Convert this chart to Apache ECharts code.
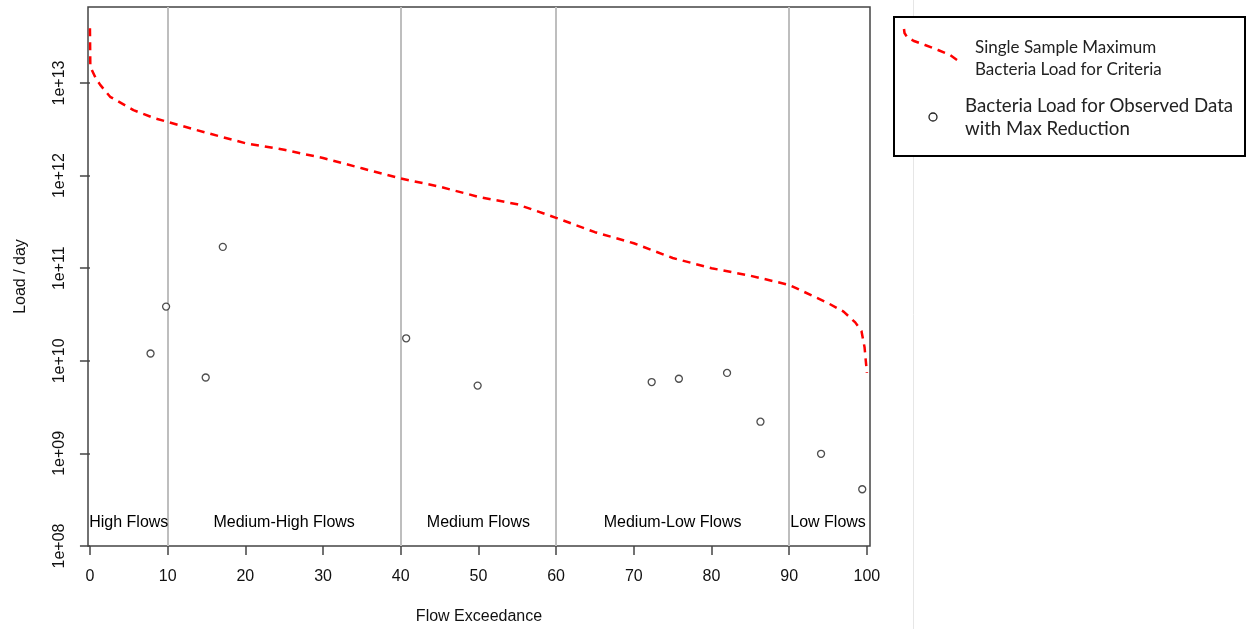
<!DOCTYPE html>
<html>
<head>
<meta charset="utf-8">
<script src="https://cdn.jsdelivr.net/npm/echarts@6/dist/echarts.min.js"></script>
<style>
html,body{margin:0;padding:0;background:#fff;}
#chart{width:1247px;height:629px;}
</style>
</head>
<body>
<div id="chart"></div>
<script>
// Flow duration curve: flow exceedance (%) and single-sample maximum load (per day)
const curveExceedance = [0, 0.05, 0.7, 1.3, 2.6, 5.6, 8.2, 10, 15, 20, 25, 30, 35, 40, 45, 50, 55, 60, 65, 70, 75, 80, 85, 90, 95, 97, 98.5, 99.3, 99.7, 100];
const curveLoad = [3.9e13, 1.5e13, 1.15e13, 9.6e12, 7.1e12, 5.1e12, 4.2e12, 3.8e12, 2.9e12, 2.24e12, 1.9e12, 1.55e12, 1.2e12, 9.3e11, 7.6e11, 5.9e11, 4.9e11, 3.5e11, 2.45e11, 1.86e11, 1.29e11, 1.0e11, 8.3e10, 6.6e10, 4.2e10, 3.4e10, 2.6e10, 2.1e10, 1.4e10, 7.4e9];

// Observed data with max reduction
const obsExceedance = [7.8, 9.8, 14.9, 17.1, 40.7, 49.9, 72.3, 75.8, 82.0, 86.3, 94.1, 99.4];
const obsLoad = [1.2e10, 3.85e10, 6.6e9, 1.7e11, 1.75e10, 5.4e9, 5.9e9, 6.4e9, 7.4e9, 2.2e9, 9.9e8, 4.1e8];

// Flow regime boundaries and names
const regimeBounds = [0, 10, 40, 60, 90, 100];
const regimeNames = ['High Flows', 'Medium-High Flows', 'Medium Flows', 'Medium-Low Flows', 'Low Flows'];

// Axis ticks
const xTicks = [0, 10, 20, 30, 40, 50, 60, 70, 80, 90, 100];
const yTickExponents = [8, 9, 10, 11, 12, 13];

const regimeLabelLoad = 1.8e8;

const L = Math.log10;
const curveData = curveExceedance.map((x, i) => [x, L(curveLoad[i])]);
const obsData = obsExceedance.map((x, i) => [x, L(obsLoad[i])]);
const regimeLabelData = regimeNames.map((n, i) => [(regimeBounds[i] + regimeBounds[i + 1]) / 2, L(regimeLabelLoad), n]);
const dividerLines = regimeBounds.slice(1, -1).map(v => ({ xAxis: v }));

const axisColor = '#444';
const textColor = '#111';
const font = 'Liberation Sans, Arial, sans-serif';

const chart = echarts.init(document.getElementById('chart'), null, { renderer: 'canvas' });
chart.setOption({
  animation: false,
  backgroundColor: '#fff',
  grid: { left: 88, right: 377, top: 7, bottom: 83, show: true, borderColor: axisColor, borderWidth: 1.5, backgroundColor: 'transparent', outerBoundsMode: 'none', containLabel: false },
  xAxis: {
    type: 'value', min: -0.25, max: 100.4,
    axisLine: { show: false },
    splitLine: { show: false },
    axisTick: { show: true, customValues: xTicks, length: 9, lineStyle: { color: axisColor, width: 1.5 } },
    axisLabel: { customValues: xTicks, fontSize: 16, color: textColor, margin: 23, fontFamily: font },
    name: 'Flow Exceedance', nameLocation: 'middle', nameGap: 63,
    nameTextStyle: { fontSize: 16, color: textColor, fontFamily: font }
  },
  yAxis: {
    type: 'value', min: 8, max: 13.821,
    axisLine: { show: false },
    splitLine: { show: false },
    axisTick: { show: true, customValues: yTickExponents, length: 10, lineStyle: { color: axisColor, width: 1.5 } },
    axisLabel: {
      customValues: yTickExponents, rotate: 90, fontSize: 16, color: textColor, margin: 20, fontFamily: font,
      formatter: v => '1e+' + (v < 10 ? '0' + v : String(v))
    },
    name: 'Load / day', nameLocation: 'middle', nameGap: 59,
    nameTextStyle: { fontSize: 16, color: textColor, fontFamily: font }
  },
  series: [
    {
      name: 'Single Sample Maximum Bacteria Load for Criteria',
      type: 'line', data: curveData, showSymbol: false, symbol: 'none', smooth: false,
      lineStyle: { color: '#ff0000', width: 2.5, type: [8, 6] },
      z: 3,
      markLine: {
        silent: true, symbol: 'none', label: { show: false },
        lineStyle: { color: '#bebebe', width: 2, type: 'solid' },
        data: dividerLines, z: 1
      }
    },
    {
      name: 'Bacteria Load for Observed Data with Max Reduction',
      type: 'scatter', data: obsData, symbol: 'circle', symbolSize: 7,
      itemStyle: { color: '#fff', borderColor: '#222', borderWidth: 1.3 },
      z: 4
    },
    {
      type: 'scatter', data: regimeLabelData, symbolSize: 0, silent: true,
      itemStyle: { opacity: 1 },
      label: { show: true, position: 'inside', formatter: p => p.data[2], fontSize: 16, color: '#000', fontFamily: font, opacity: 1 },
      z: 5
    }
  ],
  graphic: [
    { type: 'line', shape: { x1: 913.5, y1: 0, x2: 913.5, y2: 629 }, style: { stroke: '#e6e6e6', lineWidth: 1 }, z: 1 },
    { type: 'rect', shape: { x: 894, y: 17, width: 351, height: 139 }, style: { fill: '#fff', stroke: '#000', lineWidth: 2 }, z: 2 },
    { type: 'polyline', shape: { points: [[904, 29], [904.5, 33], [907, 37], [914, 41], [925, 45], [938, 50], [950, 55], [960, 62]] }, style: { stroke: '#ff0000', lineWidth: 2.5, lineDash: [8, 6], fill: null }, z: 3 },
    { type: 'text', x: 975, y: 59, style: { text: 'Single Sample Maximum\nBacteria Load for Criteria', font: '17px Lato, sans-serif', fill: '#222', lineHeight: 22, verticalAlign: 'middle' }, z: 3 },
    { type: 'circle', shape: { cx: 933, cy: 117, r: 4 }, style: { fill: '#fff', stroke: '#222', lineWidth: 1.3 }, z: 3 },
    { type: 'text', x: 965, y: 117, style: { text: 'Bacteria Load for Observed Data\nwith Max Reduction', font: '18.7px Lato, sans-serif', fill: '#222', lineHeight: 23, verticalAlign: 'middle' }, z: 3 }
  ]
});
</script>
</body>
</html>
